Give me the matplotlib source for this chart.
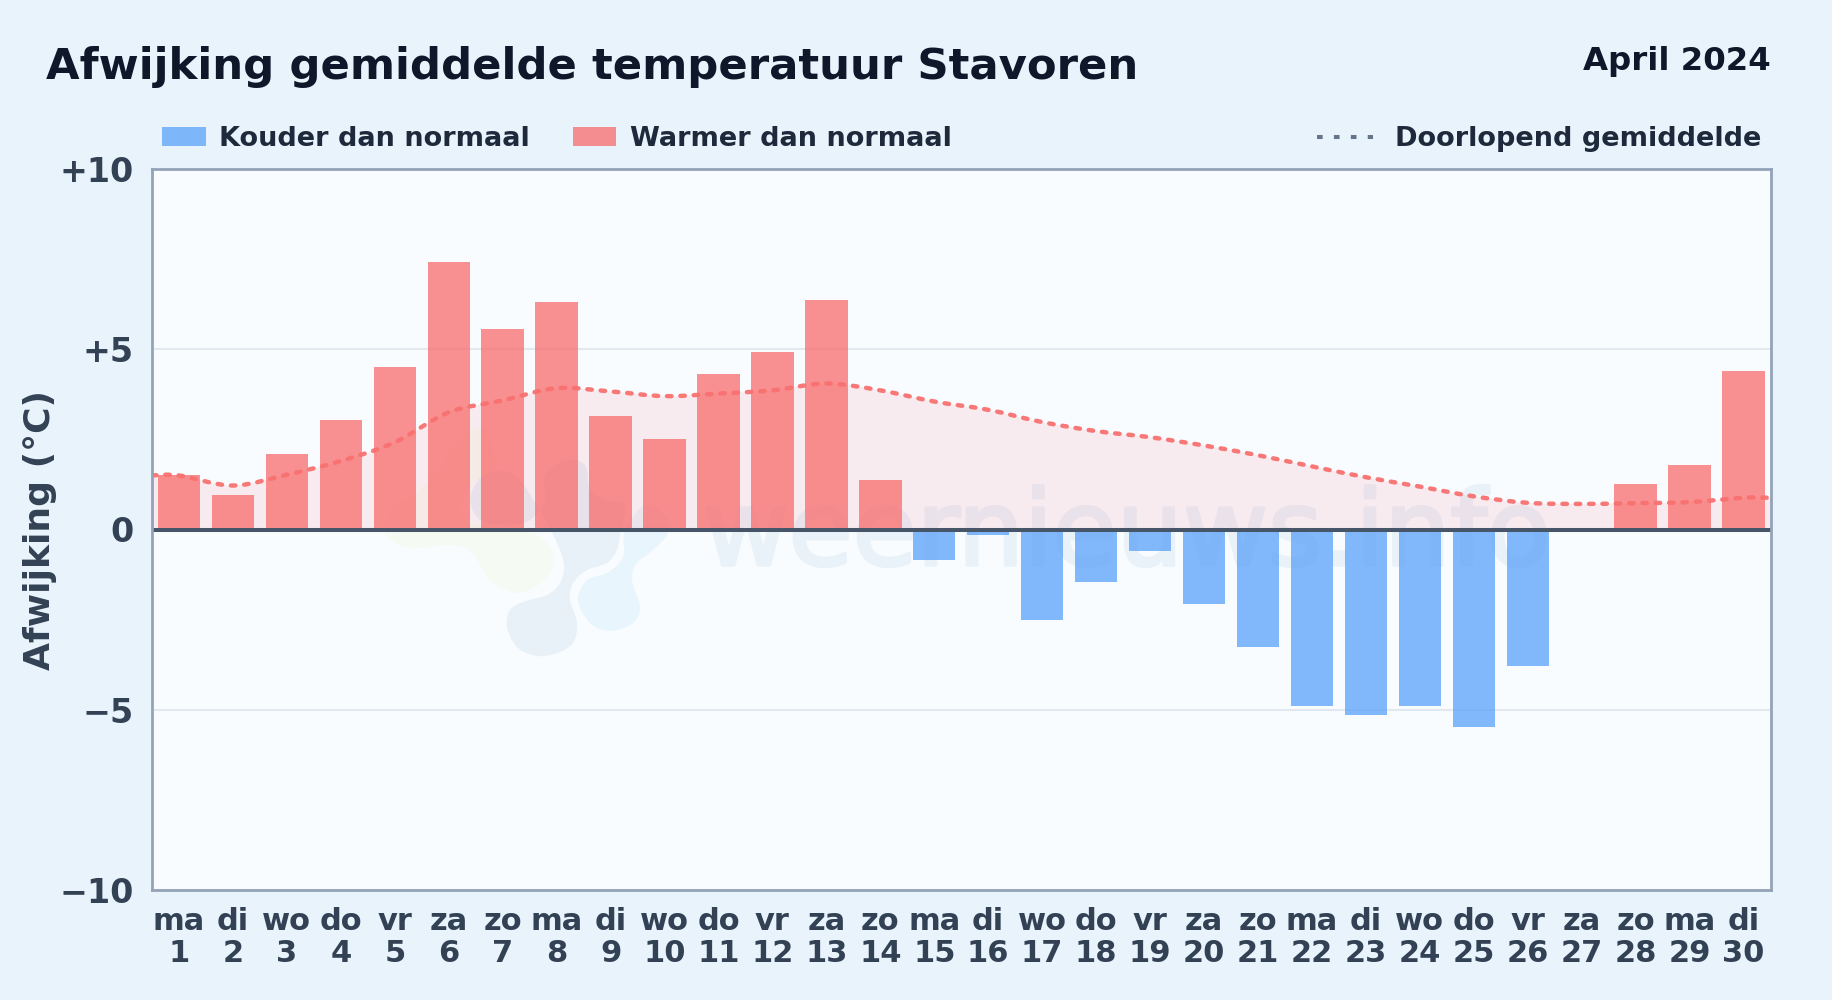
import numpy as np
import matplotlib
matplotlib.use("Agg")
import matplotlib.pyplot as plt
import matplotlib.patheffects as pe
from matplotlib.path import Path
from matplotlib.patches import PathPatch, Rectangle
from matplotlib.lines import Line2D

days = list(range(1, 31))
weekdays = ["ma", "di", "wo", "do", "vr", "za", "zo"] * 4 + ["ma", "di"]
deviation = [1.5, 0.95, 2.1, 3.05, 4.52, 7.42, 5.55, 6.3, 3.15, 2.5,
             4.3, 4.92, 6.37, 1.37, -0.85, -0.15, -2.5, -1.45, -0.6, -2.08,
             -3.25, -4.9, -5.15, -4.9, -5.48, -3.8, 0.0, 1.25, 1.8, 4.4]
running_mean = [1.5, 1.22, 1.52, 1.9, 2.42, 3.25, 3.58, 3.92, 3.83, 3.7,
                3.77, 3.86, 4.05, 3.86, 3.55, 3.32, 2.98, 2.73, 2.56, 2.33,
                2.06, 1.75, 1.45, 1.19, 0.92, 0.74, 0.71, 0.73, 0.76, 0.88]
y_ticks = [-10, -5, 0, 5, 10]
y_tick_labels = ["\u221210", "\u22125", "0", "+5", "+10"]

W, H = 1832, 1000
BG = "#e8f3fc"
TEXT = "#334155"
RED = "#f87171"
BLUE = "#60a5fa"


def fx(px):
    return px / W


def fy(py):
    return 1 - py / H


def smooth_path(xs, ys, closed=False):
    # catmull-rom through the points, as bezier segments
    pts = np.column_stack([xs, ys])
    n = len(pts)
    verts = [pts[0]]
    codes = [Path.MOVETO]
    for i in range(n if closed else n - 1):
        if closed:
            p0, p1, p2, p3 = pts[(i - 1) % n], pts[i], pts[(i + 1) % n], pts[(i + 2) % n]
        else:
            p0, p1, p2, p3 = pts[max(i - 1, 0)], pts[i], pts[i + 1], pts[min(i + 2, n - 1)]
        verts += [p1 + (p2 - p0) / 6, p2 - (p3 - p1) / 6, p2]
        codes += [Path.CURVE4] * 3
    return verts, codes


def logo_blob(ax, points, color):
    xy = np.array(points, dtype=float)
    verts, codes = smooth_path(fx(xy[:, 0]), fy(xy[:, 1]), closed=True)
    ax.add_patch(PathPatch(Path(verts, codes), fc=color, ec="none",
                           transform=ax.figure.transFigure, zorder=1))


fig = plt.figure(figsize=(W / 100, H / 100), dpi=100, facecolor=BG)
ax = fig.add_axes([fx(152), fy(890), fx(1770.5 - 152), (890 - 169) / H])
ax.set_facecolor("#f8fcff")
ax.set_xlim(0.5, 30.5)
ax.set_ylim(-10, 10)

for side in ax.spines.values():
    side.set_color("#94a3b8")
    side.set_linewidth(2.0)
    side.set_zorder(8)

ax.yaxis.grid(True, color="#e2e8f0", linewidth=1.5, zorder=0)
ax.set_axisbelow(True)

# watermark logo and text
logo_blob(ax, [(385, 533), (395, 505), (425, 485), (460, 440), (485, 430), (495, 470),
               (470, 485), (465, 520), (527, 532), (547, 543), (553, 560), (547, 577),
               (520, 593), (490, 580), (473, 553), (450, 545), (410, 548)], "#f5faf3")
logo_blob(ax, [(565, 460), (585, 465), (590, 490), (605, 500), (625, 505), (620, 535),
               (617, 550), (607, 563), (587, 570), (573, 583), (570, 600), (577, 623),
               (573, 643), (557, 653), (537, 656), (517, 647), (507, 627), (510, 610),
               (523, 602), (547, 595), (560, 583), (564, 567), (560, 550), (548, 525),
               (535, 503), (520, 480), (500, 470), (480, 478), (470, 500), (480, 520),
               (505, 525), (530, 520), (545, 500), (545, 475)], "#e8f0f8")
logo_blob(ax, [(645, 505), (665, 515), (668, 533), (653, 550), (637, 563), (632, 580),
               (640, 607), (633, 623), (610, 631), (590, 623), (578, 600), (587, 580),
               (607, 573), (623, 557), (625, 530)], "#e9f5fd")
ax.text(fx(1127), fy(565), "weernieuws.info", transform=fig.transFigure, ha="center",
        va="baseline", fontsize=75, color="#e9f1f9", zorder=1,
        path_effects=[pe.withStroke(linewidth=2.5, foreground="#e9f1f9")])

# running mean, flat out to the plot edges
line_x = [0.5] + days + [30.5]
line_y = [running_mean[0]] + running_mean + [running_mean[-1]]
verts, codes = smooth_path(line_x, line_y)
fill_verts = verts + [(30.5, 0), (0.5, 0), (0.5, line_y[0])]
fill_codes = codes + [Path.LINETO] * 3
ax.add_patch(PathPatch(Path(fill_verts, fill_codes), fc="#f87880", ec="none", alpha=0.12, zorder=2))

colors = [RED if v >= 0 else BLUE for v in deviation]
ax.bar(days, deviation, width=0.785, color=colors, alpha=0.78, linewidth=0, zorder=3)

ax.add_patch(PathPatch(Path(verts, codes), fc="none", ec=RED, lw=3.2, alpha=0.95,
                       linestyle=(0, (1.0, 2.0)), capstyle="round", zorder=5))
ax.axhline(0, color="#475569", linewidth=2.9, zorder=6)

ax.set_xticks(days)
ax.set_xticklabels([f"{w}\n{d}" for w, d in zip(weekdays, days)], fontsize=22,
                   fontweight="bold", color=TEXT, linespacing=1.1)
ax.set_yticks(y_ticks)
ax.set_yticklabels(y_tick_labels, fontsize=24, fontweight="bold", color=TEXT)
ax.tick_params(axis="both", length=0)
ax.tick_params(axis="x", pad=12.5)
ax.tick_params(axis="y", pad=13)

fig.text(fx(40), fy(530), "Afwijking (\u00b0C)", rotation=90, ha="center", va="center",
         fontsize=26, fontweight="bold", color=TEXT)
fig.text(fx(46), fy(79.5), "Afwijking gemiddelde temperatuur Stavoren", ha="left", va="baseline",
         fontsize=31.2, fontweight="bold", color="#0f172a")
fig.text(fx(1771), fy(70), "April 2024", ha="right", va="baseline",
         fontsize=23.3, fontweight="bold", color="#0f172a")

# legend
for x0, x1, col in [(162, 206, BLUE), (573, 616, RED)]:
    fig.add_artist(Rectangle((fx(x0), fy(146)), fx(x1 - x0), 19 / H, transform=fig.transFigure,
                             fc=col, ec="none", alpha=0.78))
fig.add_artist(Line2D([fx(1317), fx(1373)], [fy(137), fy(137)], transform=fig.transFigure,
                      color="#64748b", lw=2.9, linestyle=(0, (1.4, 2.8))))
for x0, label in [(219, "Kouder dan normaal"), (630, "Warmer dan normaal"),
                  (1395, "Doorlopend gemiddelde")]:
    fig.text(fx(x0), fy(146), label, ha="left", va="baseline", fontsize=19.5,
             fontweight="bold", color="#1e293b")

fig.savefig("out.png", dpi=100, facecolor=BG)
